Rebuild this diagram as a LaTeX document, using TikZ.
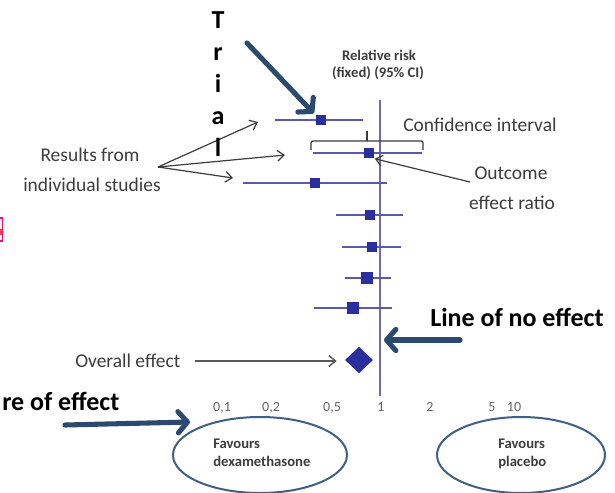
\documentclass[tikz,border=0pt]{standalone}
\usepackage{fontspec}
\setmainfont{Carlito}
\usetikzlibrary{arrows.meta,shapes.geometric}

\definecolor{navyarrow}{HTML}{2B4A6F}
\definecolor{plotline}{HTML}{5A5AAC}
\definecolor{plotbox}{HTML}{2B2F9E}
\definecolor{noeffect}{HTML}{6C6CAE}
\definecolor{annot}{HTML}{3C3C3C}
\definecolor{ovalblue}{HTML}{3F5F86}

\begin{document}
\begin{tikzpicture}[x=0.75pt,y=-0.75pt,
  note/.style={text=annot,inner sep=0pt,font=\fontsize{14.6}{17}\selectfont},
  callout/.style={text=black,inner sep=0pt,font=\bfseries\fontsize{19.5}{22}\selectfont},
  heading/.style={text=annot,inner sep=0pt,font=\bfseries\fontsize{11}{13}\selectfont},
  ticklabel/.style={text=annot!80,inner sep=0pt,font=\fontsize{10.5}{12}\selectfont},
  favtext/.style={text=annot,inner sep=0pt,font=\bfseries\fontsize{11}{13}\selectfont},
  ciline/.style={draw=plotline,line width=1.5pt},
  estbox/.style={fill=plotbox,draw=none,inner sep=0pt,minimum size=#1},
  estbox/.default=8pt,
  pointer/.style={draw=annot,line width=0.9pt,-{Straight Barb[length=5pt,width=8pt]}},
  bigarrow/.style={draw=navyarrow,line width=3.8pt,line cap=round,line join=round,
    -{Straight Barb[length=7pt,width=16pt,line cap=round,line join=round]}},
  oval/.style={draw=ovalblue,line width=1.5pt,ellipse,inner sep=0pt}
]
\useasboundingbox (0,0) rectangle (615,493);
\clip (0,0) rectangle (615,493);

% small marker at the left margin
\draw[draw=magenta!85!violet,fill=pink!30,line width=0.9pt] (-6,218) rectangle (2.6,241);
\fill[red!75] (0,229) rectangle (1.8,235);

% column heading
\node[heading,anchor=base] (head1) at (379,60) {Relative risk};
\node[heading,anchor=base] (head2) at (378,77) {(fixed) (95\% CI)};

% line of no effect
\coordinate (lnTop) at (380,100);
\coordinate (lnBot) at (380,396);
\draw[noeffect,line width=1.2pt] (lnTop) -- (lnBot);

% individual studies: confidence intervals and point estimates
\foreach \k/\y/\lo/\hi/\est/\sz in {1/120/275/363/321/8.2pt,
                                    2/153/313/422/369/8.2pt,
                                    3/183/243/387/315/8.2pt,
                                    4/215/336/403/370/8.2pt,
                                    5/247/342/401/372/7.6pt,
                                    6/278/345/391/367/9pt,
                                    7/308/314/392/353/8.4pt}{
  \coordinate (lo\k) at (\lo,\y);
  \coordinate (hi\k) at (\hi,\y);
  \draw[ciline] (lo\k) -- (hi\k);
  \node[estbox=\sz] (sq\k) at (\est,\y) {};
}

% pooled estimate
\node[diamond,fill=plotbox,inner sep=0pt,minimum width=21pt,minimum height=20pt] (pooled) at (359,360) {};

% bracket over the second interval
\draw[annot,line width=0.9pt,rounded corners=1.5pt] (311,150) -- (311,141) -- (423,141) -- (423,150);
\draw[annot,line width=0.9pt] (367,141) -- (367,131);

% annotations
\node[note,anchor=base west] (ci) at (403,131) {Confidence interval};
\node[note,anchor=base] (out1) at (511,179) {Outcome};
\node[note,anchor=base] (out2) at (512,209) {effect ratio};
\coordinate (outTail) at (470,182);
\draw[pointer] (outTail) -- (sq2.south east);

\node[note,anchor=base] (res1) at (90,161) {Results from};
\node[note,anchor=base] (res2) at (92,191) {individual studies};
\coordinate (resFrom) at (158,167);
\coordinate (tip1) at (258,122);
\coordinate (tip2) at (285,155);
\coordinate (tip3) at (233,178);
\draw[pointer] (resFrom) -- (tip1);
\draw[pointer] (resFrom) -- (tip2);
\draw[pointer] (resFrom) -- (tip3);

\node[note,anchor=base west] (overall) at (75,367) {Overall effect};
\coordinate (ovTail) at (195,361);
\draw[draw=annot!85,line width=1.1pt,shorten >=6pt,-{Straight Barb[length=5pt,width=8pt]}]
  (ovTail) -- (ovTail -| pooled.west);

% vertical "Trial" label
\foreach \ch/\i in {T/0,r/1,i/2,a/3,l/4}{
  \node[callout,anchor=base] (trial\i) at (218,28+32*\i) {\ch};
}
\coordinate (trialTail) at (247,43);
\draw[bigarrow] (trialTail) -- ([shift={(-1.5,-1)}]sq1.north west);

% line of no effect callout
\node[callout,anchor=base west] (noeff) at (430,326) {Line of no effect};
\coordinate (noeffTail) at (460,340);
\coordinate (noeffTip) at (384,340);
\draw[bigarrow] (noeffTail) -- (noeffTip);

% scale labels
\foreach \v/\x in {0{,}1/222,0{,}2/271,0{,}5/332,1/381,2/430,5/492,10/514}{
  \node[ticklabel,anchor=base] at (\x,411) {\v};
}

% favour ovals
\node[oval,minimum width=130.5pt,minimum height=57pt] (ovalDex) at (260,455) {};
\node[oval,minimum width=126pt,minimum height=57pt] (ovalPla) at (521,455) {};
\node[favtext,anchor=base west] (fd1) at (213,448) {Favours};
\node[favtext,anchor=base west] (fd2) at (213,466) {dexamethasone};
\node[favtext,anchor=base west] (fp1) at (498,448) {Favours};
\node[favtext,anchor=base west] (fp2) at (498,466) {placebo};

% measure of effect callout
\node[callout,anchor=base west] (measure) at (2,410) {re of effect};
\coordinate (measTail) at (65,425);
\coordinate (measTip) at (190,422);
\draw[bigarrow] (measTail) -- (measTip);
\end{tikzpicture}
\end{document}
